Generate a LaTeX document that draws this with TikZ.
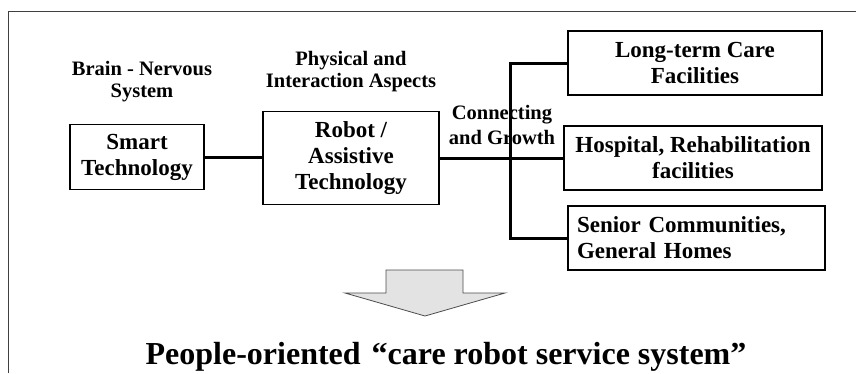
\documentclass[tikz,border=0pt]{standalone}
\usepackage{fontspec}
\setmainfont{Liberation Serif}
\newcommand\boxfont{\bfseries\fontsize{23}{26}\selectfont}
\newcommand\lblfont{\bfseries\fontsize{20.5}{22.5}\selectfont}
\newcommand\titlefont{\bfseries\fontsize{32}{36}\selectfont}
\begin{document}
\begin{tikzpicture}[x=1pt,y=-1pt,
  box/.style={draw=black, line width=1.6pt, inner sep=0pt, align=center, font=\boxfont},
  lbl/.style={inner sep=0pt, align=center, anchor=north, font=\lblfont},
  link/.style={line width=3pt, line join=miter},
  bigarrow/.style={draw=black!70, line width=0.8pt, fill=black!11, line join=miter},
  frame/.style={line width=1pt, draw=black!75}
]
\useasboundingbox (0,0) rectangle (856,373);

% outer frame (top and left edges)
\draw[frame] (8,373) -- (8,11.5) -- (856,11.5);

% labels above the chain
\node[lbl] (brain) at (142,61) {Brain - Nervous\\System};
\node[lbl] (phys) at (351,51) {Physical and\\Interaction Aspects};
\node[lbl, font=\bfseries\fontsize{20.5}{25}\selectfont] (conn) at (502,105.5) {Connecting\\and Growth};

% main boxes
\node[box, minimum width=134pt, minimum height=65pt] (smart) at (137,157) {Smart\\Technology};
\node[box, minimum width=176pt, minimum height=93pt] (robot) at (351,158) {Robot /\\Assistive\\Technology};

% target settings
\node[box, minimum width=254pt, minimum height=64pt] (ltc) at (695,63) {Long-term Care\\Facilities};
\node[box, minimum width=258pt, minimum height=64pt] (hosp) at (693,158) {Hospital, Rehabilitation\\facilities};
\node[box, minimum width=257pt, minimum height=64pt, align=left, text width=239pt] (senior) at (696.5,238) {Senior Communities,\\General Homes};

% connectors
\coordinate (bus) at (510,158);
\draw[link] (smart.east) -- (robot.west |- smart.east);
\draw[link] (robot.east |- hosp.west) -- (hosp.west);
\draw[link] (ltc.west) -| (bus) |- (senior.west);

% downward block arrow
\draw[bigarrow] (386,270) -- (463,270) -- (463,293) -- (505,293) -- (425,316) -- (345,293) -- (386,293) -- cycle;

% resulting concept
\node[font=\titlefont, anchor=base, inner sep=0pt] (title) at (446,364) {People-oriented\hspace{3pt} “care robot service system”};
\end{tikzpicture}
\end{document}
